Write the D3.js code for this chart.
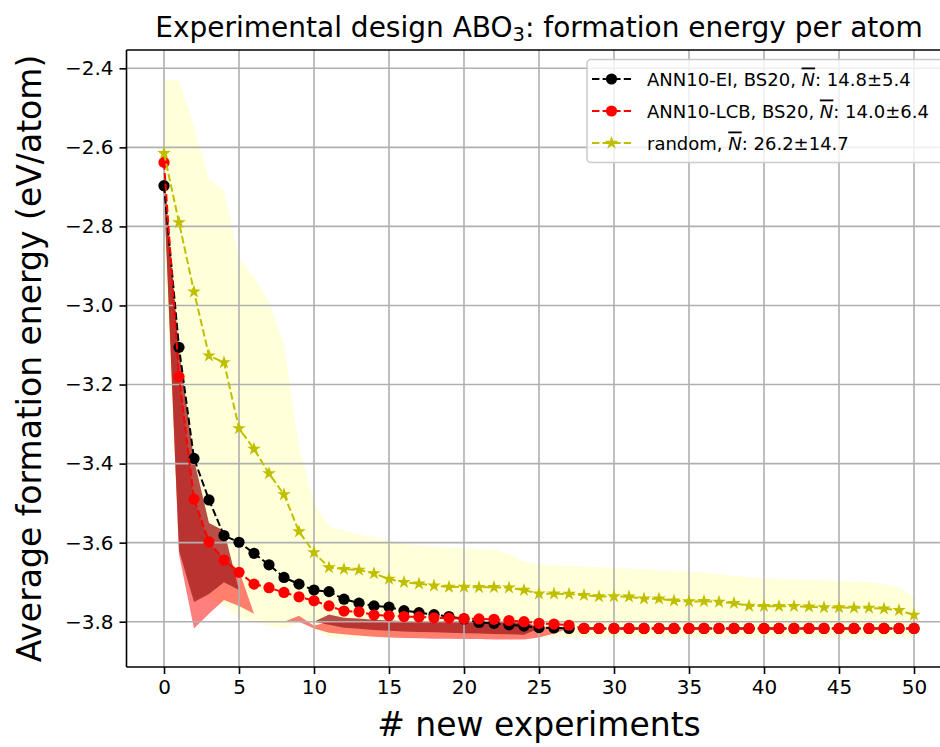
<!DOCTYPE html>
<html>
<head>
<meta charset="utf-8">
<script src="https://cdn.jsdelivr.net/npm/d3@7"></script>
<style>
  body { margin: 0; background: #fff; }
  text { font-family: "DejaVu Sans", sans-serif; }
</style>
</head>
<body>
<svg id="chart" width="940" height="747"></svg>
<script>
// number of new experiments 0..50
const steps = d3.range(0, 51);

// ANN10-EI, BS20 (black)
const eiMean = [-2.697, -3.106, -3.387, -3.492, -3.582, -3.599, -3.627, -3.656, -3.688, -3.705,
  -3.720, -3.724, -3.743, -3.753, -3.760, -3.763, -3.772, -3.777, -3.782, -3.787,
  -3.793, -3.802, -3.804, -3.808, -3.811, -3.815, -3.816, -3.817, -3.817, -3.817,
  -3.817, -3.817, -3.817, -3.817, -3.817, -3.817, -3.817, -3.817, -3.817, -3.817,
  -3.817, -3.817, -3.817, -3.817, -3.817, -3.817, -3.817, -3.817, -3.817, -3.817, -3.817];

// ANN10-LCB, BS20 (red)
const lcbMean = [-2.638, -3.180, -3.490, -3.598, -3.644, -3.675, -3.705, -3.714, -3.726, -3.737,
  -3.747, -3.760, -3.773, -3.775, -3.783, -3.785, -3.787, -3.788, -3.790, -3.791,
  -3.792, -3.793, -3.794, -3.797, -3.800, -3.804, -3.806, -3.809, -3.817, -3.817,
  -3.817, -3.817, -3.817, -3.817, -3.817, -3.817, -3.817, -3.817, -3.817, -3.817,
  -3.817, -3.817, -3.817, -3.817, -3.817, -3.817, -3.817, -3.817, -3.817, -3.817, -3.817];

// random (yellow stars)
const randomMean = [-2.615, -2.790, -2.965, -3.127, -3.144, -3.311, -3.363, -3.425, -3.478, -3.572,
  -3.625, -3.663, -3.667, -3.669, -3.678, -3.692, -3.700, -3.704, -3.709, -3.712,
  -3.712, -3.713, -3.713, -3.714, -3.720, -3.729, -3.729, -3.730, -3.733, -3.736,
  -3.736, -3.737, -3.742, -3.742, -3.747, -3.749, -3.748, -3.750, -3.753, -3.760,
  -3.761, -3.761, -3.761, -3.762, -3.764, -3.764, -3.765, -3.765, -3.767, -3.771, -3.783];

// shaded spreads (upper / lower edge per step)
const randomHi = [-2.43, -2.43, -2.55, -2.68, -2.71, -2.88, -2.93, -2.99, -3.10, -3.36,
  -3.50, -3.56, -3.57, -3.58, -3.586, -3.595, -3.603, -3.607, -3.610, -3.612,
  -3.615, -3.617, -3.618, -3.630, -3.648, -3.655, -3.657, -3.659, -3.660, -3.662,
  -3.664, -3.666, -3.668, -3.670, -3.672, -3.673, -3.676, -3.680, -3.684, -3.688,
  -3.690, -3.692, -3.694, -3.695, -3.696, -3.697, -3.699, -3.700, -3.705, -3.715, -3.736];
const randomLo = [-2.90, -3.60, -3.74, -3.74, -3.76, -3.79, -3.80, -3.81, -3.817, -3.80,
  -3.815, -3.84, -3.84, -3.84, -3.84, -3.84, -3.84, -3.84, -3.84, -3.84,
  -3.84, -3.84, -3.84, -3.84, -3.84, -3.84, -3.84, -3.84, -3.84, -3.84,
  -3.84, -3.84, -3.84, -3.84, -3.84, -3.84, -3.84, -3.84, -3.84, -3.84,
  -3.84, -3.84, -3.84, -3.84, -3.84, -3.84, -3.84, -3.84, -3.84, -3.84, -3.84];

const lcbHi = [-2.64, -3.18, -3.49, -3.60, -3.64, -3.67, -3.78, -3.80, -3.80, -3.785,
  -3.81, -3.80, -3.80, -3.80, -3.80, -3.80, -3.80, -3.80, -3.80, -3.80,
  -3.80, -3.80, -3.80, -3.80, -3.80, -3.812, -3.815, -3.817, -3.817, -3.817,
  -3.817, -3.817, -3.817, -3.817, -3.817, -3.817, -3.817, -3.817, -3.817, -3.817,
  -3.817, -3.817, -3.817, -3.817, -3.817, -3.817, -3.817, -3.817, -3.817, -3.817, -3.817];
const lcbLo = [-2.70, -3.63, -3.817, -3.78, -3.745, -3.76, -3.78, -3.80, -3.80, -3.80,
  -3.817, -3.828, -3.832, -3.835, -3.838, -3.84, -3.841, -3.842, -3.843, -3.843,
  -3.844, -3.844, -3.845, -3.845, -3.845, -3.84, -3.83, -3.817, -3.817, -3.817,
  -3.817, -3.817, -3.817, -3.817, -3.817, -3.817, -3.817, -3.817, -3.817, -3.817,
  -3.817, -3.817, -3.817, -3.817, -3.817, -3.817, -3.817, -3.817, -3.817, -3.817, -3.817];

const eiHi = [-2.70, -3.11, -3.39, -3.55, -3.57, -3.72, -3.80, -3.80, -3.80, -3.80,
  -3.80, -3.782, -3.79, -3.792, -3.795, -3.797, -3.798, -3.80, -3.80, -3.80,
  -3.80, -3.80, -3.80, -3.80, -3.80, -3.817, -3.817, -3.817, -3.817, -3.817,
  -3.817, -3.817, -3.817, -3.817, -3.817, -3.817, -3.817, -3.817, -3.817, -3.817,
  -3.817, -3.817, -3.817, -3.817, -3.817, -3.817, -3.817, -3.817, -3.817, -3.817, -3.817];
const eiLo = [-2.72, -3.62, -3.75, -3.73, -3.70, -3.72, -3.80, -3.80, -3.80, -3.80,
  -3.80, -3.808, -3.815, -3.818, -3.821, -3.823, -3.825, -3.826, -3.827, -3.828,
  -3.829, -3.83, -3.831, -3.832, -3.833, -3.817, -3.817, -3.817, -3.817, -3.817,
  -3.817, -3.817, -3.817, -3.817, -3.817, -3.817, -3.817, -3.817, -3.817, -3.817,
  -3.817, -3.817, -3.817, -3.817, -3.817, -3.817, -3.817, -3.817, -3.817, -3.817, -3.817];

const xTicks = [0, 5, 10, 15, 20, 25, 30, 35, 40, 45, 50];
const yTicks = [-2.4, -2.6, -2.8, -3.0, -3.2, -3.4, -3.6, -3.8];

const legendItems = [
  { pre: "ANN10-EI, BS20, ", post: ": 14.8±5.4", color: "#000000", marker: "circle" },
  { pre: "ANN10-LCB, BS20, ", post: ": 14.0±6.4", color: "#ff0000", marker: "circle" },
  { pre: "random, ", post: ": 26.2±14.7", color: "#bfbf00", marker: "star" }
];

const svg = d3.select("#chart");
const mLeft = 126.5, mRight = 951.5, mTop = 50, mBottom = 667;

const x = d3.scaleLinear().domain([-2.5, 52.5]).range([mLeft, mRight]);
const y = d3.scaleLinear().domain([-3.9146, -2.3537]).range([mBottom, mTop]);

svg.append("defs").append("clipPath").attr("id", "plot")
  .append("rect").attr("x", mLeft).attr("y", mTop).attr("width", mRight - mLeft).attr("height", mBottom - mTop);

const plot = svg.append("g").attr("clip-path", "url(#plot)");

function band(lo, hi) {
  return d3.area().x((d, i) => x(steps[i])).y0((d, i) => y(lo[i])).y1((d, i) => y(hi[i]))(steps);
}

plot.append("path").attr("d", band(randomLo, randomHi)).attr("fill", "#ffff00").attr("fill-opacity", 0.15);
plot.append("path").attr("d", band(lcbLo, lcbHi)).attr("fill", "#ff0000").attr("fill-opacity", 0.5);
plot.append("path").attr("d", band(eiLo, eiHi)).attr("fill", "#a82222").attr("fill-opacity", 0.8);

// grid
const grid = plot.append("g").attr("stroke", "#b0b0b0").attr("stroke-width", 1.6);
xTicks.forEach(t => grid.append("line").attr("x1", x(t)).attr("x2", x(t)).attr("y1", mTop).attr("y2", mBottom));
yTicks.forEach(t => grid.append("line").attr("x1", mLeft).attr("x2", mRight).attr("y1", y(t)).attr("y2", y(t)));

// series
function series(vals, color, marker) {
  const g = plot.append("g");
  g.append("path")
    .attr("d", d3.line().x((d, i) => x(steps[i])).y(d => y(d))(vals))
    .attr("fill", "none").attr("stroke", color).attr("stroke-width", 2)
    .attr("stroke-dasharray", "7.4,3.2");
  if (marker === "circle") {
    g.selectAll("circle").data(vals).join("circle")
      .attr("cx", (d, i) => x(steps[i])).attr("cy", d => y(d)).attr("r", 5.6).attr("fill", color);
  } else {
    const star = d3.symbol(d3.symbolStar).size(58);
    g.selectAll("path.m").data(vals).join("path").attr("class", "m")
      .attr("transform", (d, i) => `translate(${x(steps[i])},${y(d)})`)
      .attr("d", star).attr("fill", color);
  }
}
series(eiMean, "#000000", "circle");
series(lcbMean, "#ff0000", "circle");
series(randomMean, "#bfbf00", "star");

// axes
const xAxis = svg.append("g").attr("transform", `translate(0,${mBottom})`)
  .call(d3.axisBottom(x).tickValues(xTicks).tickSize(7).tickPadding(6).tickFormat(d3.format("d")));
const yAxis = svg.append("g").attr("transform", `translate(${mLeft},0)`)
  .call(d3.axisLeft(y).tickValues(yTicks).tickSize(7).tickPadding(6)
    .tickFormat(d => d3.format(".1f")(d).replace("-", "\u2212")));
[xAxis, yAxis].forEach(a => {
  a.select(".domain").remove();
  a.selectAll(".tick line").attr("stroke", "#000").attr("stroke-width", 1.6);
  a.selectAll(".tick text").attr("font-size", 20).attr("fill", "#000")
    .attr("font-family", "DejaVu Sans, sans-serif");
});

// spines
svg.append("line").attr("x1", mLeft).attr("x2", mLeft).attr("y1", mTop).attr("y2", mBottom).attr("stroke", "#000").attr("stroke-width", 1.6);
svg.append("line").attr("x1", mLeft).attr("x2", mRight).attr("y1", mBottom).attr("y2", mBottom).attr("stroke", "#000").attr("stroke-width", 1.6);
svg.append("line").attr("x1", mLeft).attr("x2", mRight).attr("y1", mTop).attr("y2", mTop).attr("stroke", "#000").attr("stroke-width", 1.6);

// title and labels
const title = svg.append("text").attr("x", (mLeft + mRight) / 2).attr("y", 37)
  .attr("text-anchor", "middle").attr("font-size", 28);
title.append("tspan").text("Experimental design ABO");
title.append("tspan").attr("dy", 4).attr("font-size", 19.5).text("3");
title.append("tspan").attr("dy", -4).text(": formation energy per atom");

svg.append("text").attr("x", (mLeft + mRight) / 2).attr("y", 736).attr("text-anchor", "middle")
  .attr("font-size", 33).text("# new experiments");
svg.append("text").attr("transform", `translate(41,${(mTop + mBottom) / 2}) rotate(-90)`)
  .attr("text-anchor", "middle").attr("font-size", 33).text("Average formation energy (eV/atom)");

// legend
const lg = svg.append("g");
lg.append("rect").attr("x", 587).attr("y", 59.5).attr("width", 356).attr("height", 103).attr("rx", 4)
  .attr("fill", "#fff").attr("fill-opacity", 0.8).attr("stroke", "#cccccc").attr("stroke-width", 1.6);
legendItems.forEach((it, i) => {
  const cy = 79 + i * 32;
  lg.append("line").attr("x1", 592).attr("x2", 631).attr("y1", cy).attr("y2", cy)
    .attr("stroke", it.color).attr("stroke-width", 2).attr("stroke-dasharray", "7.4,3.2");
  if (it.marker === "circle") {
    lg.append("circle").attr("cx", 611.5).attr("cy", cy).attr("r", 5.6).attr("fill", it.color);
  } else {
    lg.append("path").attr("transform", `translate(611.5,${cy})`)
      .attr("d", d3.symbol(d3.symbolStar).size(58)).attr("fill", it.color);
  }
  const t = lg.append("text").attr("x", 647).attr("y", cy + 6.5).attr("font-size", 18);
  t.append("tspan").text(it.pre);
  t.append("tspan").attr("font-style", "italic").attr("text-decoration", "overline").text("N");
  t.append("tspan").text(it.post);
});
</script>
</body>
</html>
